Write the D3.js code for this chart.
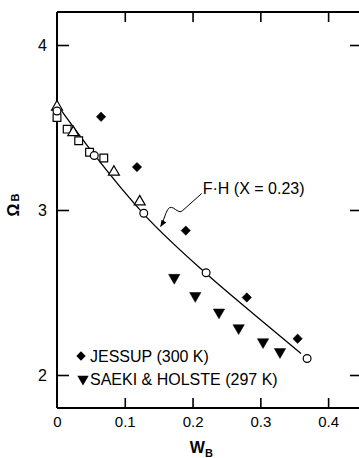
<!DOCTYPE html>
<html>
<head>
<meta charset="utf-8">
<script src="https://cdn.jsdelivr.net/npm/d3@7"></script>
<style>
  body { margin: 0; background: #fff; }
  svg { display: block; }
  text { font-family: "Liberation Sans", Arial, sans-serif; fill: #000; }
</style>
</head>
<body>
<div id="chart"></div>
<script>
// values: [W_B, Omega_B]
const squares   = [[0.0, 3.56], [0.015, 3.49], [0.032, 3.42], [0.048, 3.35], [0.069, 3.315]];
const trianglesUp = [[0.0, 3.625], [0.024, 3.47], [0.084, 3.23], [0.122, 3.05]];
const circles   = [[0.0, 3.60], [0.055, 3.33], [0.128, 2.98], [0.220, 2.62], [0.369, 2.10]];
const jessup    = [[0.065, 3.565], [0.118, 3.26], [0.190, 2.875], [0.280, 2.47], [0.355, 2.22]];
const saeki     = [[0.173, 2.59], [0.204, 2.48], [0.239, 2.38], [0.268, 2.285], [0.304, 2.20], [0.329, 2.14]];
const fhCurve   = [[0.007, 3.60], [0.055, 3.335], [0.128, 2.975], [0.22, 2.615], [0.29, 2.37], [0.36, 2.13]];

const xTicks = [0, 0.1, 0.2, 0.3, 0.4];
const xTickLabels = ["0", "0.1", "0.2", "0.3", "0.4"];
const yTicks = [2, 3, 4];
const legendLabels = ["JESSUP (300 K)", "SAEKI & HOLSTE (297 K)"];
const fhLabel = "F\u00b7H (X = 0.23)";
const fhTip = [0.153, 2.90];
const fhText = [0.215, 3.095];

const width = 359, height = 458;
const svg = d3.select("#chart").append("svg")
    .attr("width", width)
    .attr("height", height);

const x = d3.scaleLinear().domain([0, 0.45]).range([57, 362]);
const y = d3.scaleLinear().domain([1.8, 4.2]).range([408, 12]);

// frame
const frame = svg.append("g").attr("stroke", "#000").attr("stroke-width", 2).attr("fill", "none");
frame.append("line").attr("x1", x(0)).attr("x2", x(0.45)).attr("y1", y(1.8)).attr("y2", y(1.8));
frame.append("line").attr("x1", x(0)).attr("x2", x(0.45)).attr("y1", y(4.2)).attr("y2", y(4.2));
frame.append("line").attr("x1", x(0)).attr("x2", x(0)).attr("y1", y(1.8)).attr("y2", y(4.2));
frame.append("line").attr("x1", x(0.45)).attr("x2", x(0.45)).attr("y1", y(1.8)).attr("y2", y(4.2));

// bottom axis
const xAxis = d3.axisBottom(x).tickValues(xTicks).tickSize(-10).tickPadding(8)
    .tickFormat((d, i) => xTickLabels[i]);
const gx = svg.append("g").attr("transform", `translate(0,${y(1.8)})`).call(xAxis);
gx.select(".domain").remove();
gx.selectAll(".tick line").attr("stroke-width", 1.6).filter(d => d === 0).remove();
gx.selectAll("text").attr("font-size", 15).attr("font-family", "Liberation Sans, Arial, sans-serif");

// top ticks
const gxt = svg.append("g").attr("transform", `translate(0,${y(4.2)})`)
    .call(d3.axisTop(x).tickValues(xTicks.slice(1)).tickSize(-10).tickFormat(""));
gxt.select(".domain").remove();
gxt.selectAll(".tick line").attr("stroke-width", 1.6);

// left axis
const yAxis = d3.axisLeft(y).tickValues(yTicks).tickSize(-12).tickPadding(10).tickFormat(d3.format("d"));
const gy = svg.append("g").attr("transform", `translate(${x(0)},0)`).call(yAxis);
gy.select(".domain").remove();
gy.selectAll(".tick line").attr("stroke-width", 1.6);
gy.selectAll("text").attr("font-size", 16).attr("font-family", "Liberation Sans, Arial, sans-serif");

// right ticks
const gyr = svg.append("g").attr("transform", `translate(${x(0.45)},0)`)
    .call(d3.axisRight(y).tickValues(yTicks).tickSize(-12).tickFormat(""));
gyr.select(".domain").remove();
gyr.selectAll(".tick line").attr("stroke-width", 1.6);

// axis titles
const xt = svg.append("text").attr("x", x(0.213)).attr("y", 453)
    .attr("text-anchor", "middle").attr("font-size", 16).attr("font-weight", "bold");
xt.append("tspan").text("W");
xt.append("tspan").attr("font-size", 11).attr("dy", 4).text("B");

const yt = svg.append("text").attr("transform", `translate(19,${y(3.03)}) rotate(-90)`)
    .attr("text-anchor", "middle").attr("font-size", 16).attr("font-weight", "bold");
yt.append("tspan").text("\u03a9");
yt.append("tspan").attr("font-size", 11).attr("dx", 2).attr("dy", 0).text("B");

// F-H curve
const line = d3.line().x(d => x(d[0])).y(d => y(d[1])).curve(d3.curveMonotoneX);
svg.append("path").datum(fhCurve)
    .attr("d", line)
    .attr("fill", "none").attr("stroke", "#000").attr("stroke-width", 1.3);

// markers
function drawSymbols(data, type, size, filled, rotate) {
    svg.append("g").selectAll("path").data(data).join("path")
        .attr("d", d3.symbol().type(type).size(size))
        .attr("transform", d => `translate(${x(d[0])},${y(d[1])}) rotate(${rotate})`)
        .attr("fill", filled ? "#000" : "#fff")
        .attr("stroke", "#000")
        .attr("stroke-width", filled ? 0.5 : 1.2);
}
drawSymbols(squares, d3.symbolSquare, 60, false, 0);
drawSymbols(trianglesUp, d3.symbolTriangle, 52, false, 0);
drawSymbols(circles, d3.symbolCircle, 48, false, 0);
drawSymbols(jessup, d3.symbolSquare, 44, true, 45);
drawSymbols(saeki, d3.symbolTriangle, 56, true, 180);

// annotation
svg.append("defs").append("marker")
    .attr("id", "arrow").attr("viewBox", "0 0 10 10")
    .attr("refX", 9).attr("refY", 5)
    .attr("markerWidth", 7).attr("markerHeight", 7)
    .attr("orient", "auto")
    .append("path").attr("d", "M0,1 L10,5 L0,9 z").attr("fill", "#000");

const tx = x(fhTip[0]), ty = y(fhTip[1]);
const leader = d3.path();
leader.moveTo(tx + 41, ty - 33);
leader.lineTo(tx + 22, ty - 16);
leader.bezierCurveTo(tx + 17, ty - 11, tx + 12, ty - 24, tx + 7, ty - 17);
leader.bezierCurveTo(tx + 4, ty - 12, tx + 3, ty - 5, tx, ty);
svg.append("path").attr("d", leader.toString())
    .attr("fill", "none").attr("stroke", "#000").attr("stroke-width", 1)
    .attr("marker-end", "url(#arrow)");

svg.append("text").attr("x", x(fhText[0])).attr("y", y(fhText[1]))
    .attr("font-size", 16).text(fhLabel);

// legend
const legendSymbols = [
    { type: d3.symbolSquare, size: 44, rot: 45 },
    { type: d3.symbolTriangle, size: 56, rot: 180 }
];
legendLabels.forEach((lab, i) => {
    const ly = i === 0 ? 356 : 379;
    svg.append("path")
        .attr("d", d3.symbol().type(legendSymbols[i].type).size(legendSymbols[i].size))
        .attr("transform", `translate(${i === 0 ? 81 : 83},${ly}) rotate(${legendSymbols[i].rot})`)
        .attr("fill", "#000");
    svg.append("text").attr("x", 90).attr("y", ly + 6)
        .attr("font-size", 16).text(lab);
});
</script>
</body>
</html>
